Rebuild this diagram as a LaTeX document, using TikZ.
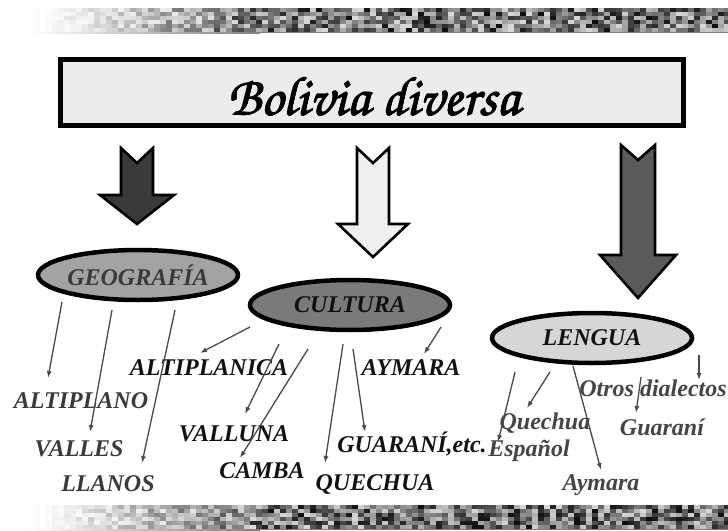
\documentclass[tikz,border=0pt]{standalone}
\usepackage{fontspec}
\setmainfont{Liberation Serif}
\usetikzlibrary{arrows.meta,shapes.geometric}
\definecolor{boxfill}{HTML}{ECECEC}
\definecolor{arrA}{HTML}{3A3A3A}
\definecolor{arrB}{HTML}{EFEFEF}
\definecolor{arrC}{HTML}{5A5A5A}
\definecolor{ellA}{HTML}{A3A3A3}
\definecolor{ellB}{HTML}{7A7A7A}
\definecolor{ellC}{HTML}{D6D6D6}
\definecolor{txtA}{HTML}{3A3A3A}
\definecolor{txtB}{HTML}{111111}
\definecolor{txtC}{HTML}{454545}
\definecolor{linecol}{HTML}{4A4A4A}
\tikzset{
  bigell/.style={ellipse, draw=black, line width=4.5pt, minimum width=200pt, minimum height=50pt, inner sep=0pt,
    font=\fontsize{24}{27}\selectfont\bfseries\itshape},
  lbl/.style={inner sep=0pt, font=\fontsize{24}{27}\selectfont\bfseries\itshape},
  conn/.style={draw=linecol, line width=1.3pt, -{Latex[length=7pt,width=5pt]}},
  blockarr/.style={draw=black, line width=2.6pt, line join=miter},
  titlefont/.style={inner sep=0pt, font=\fontencoding{OT1}\fontfamily{pzc}\fontseries{mb}\fontshape{it}\fontsize{55}{60}\selectfont},
}
\newcommand\blockarrow[8]{% cx top shafthalf headhalf headbase tip notch fill
  \filldraw[blockarr, fill=#8] (#1-#3,#2) -- (#1,#2+#7) -- (#1+#3,#2) -- (#1+#3,#5) -- (#1+#4,#5)
    -- (#1,#6) -- (#1-#4,#5) -- (#1-#3,#5) -- cycle;}
\newcommand\texstrip[2]{% top bottom
  \shade[left color=white, right color=black!50] (30,#1) rectangle (260,#2);
  \fill[black!50] (260,#1) rectangle (728,#2);
  \foreach \x in {40,46,...,728}{
    \foreach \y in {#1,4+#1,8+#1,12+#1,16+#1,20+#1}{
      \pgfmathsetmacro\f{min(1,max(0,(\x-40)/230))}
      \pgfmathsetmacro\v{(15+80*rnd)*\f}
      \fill[black!\v] (\x,\y) rectangle ++(6.4,4.3);
    }}}
\begin{document}
\begin{tikzpicture}[x=1pt,y=-1pt]
\useasboundingbox (0,0) rectangle (728,530);
\fill[white] (0,0) rectangle (728,530);
\pgfmathsetseed{11}
\texstrip{8}{33}
\texstrip{505}{530}

% title
\node[draw=black, line width=5pt, fill=boxfill, minimum width=623pt, minimum height=66pt, inner sep=0pt] (title) at (372,92.5) {};
\foreach \dx/\dy in {-0.5/0,0.5/0,0/-0.5,0/0.5}
  \node[titlefont] at (374+\dx,96+\dy) {Bolivia diversa};
\node[titlefont] (titletext) at (374,96) {Bolivia diversa};

% block arrows
\blockarrow{137}{148}{16}{37}{195}{224}{15}{arrA}
\blockarrow{373}{148}{16}{35}{224}{257}{15}{arrB}
\blockarrow{638}{145}{17}{38}{255}{298}{15}{arrC}

% ellipses
\node[bigell, fill=ellA, text=txtA] (geo) at (138,275) {GEOGRAFÍA};
\node[bigell, fill=ellB, text=txtB] (cul) at (350,305) {CULTURA};
\node[bigell, fill=ellC, text=txtB] (len) at (592,338) {LENGUA};

% labels
\node[lbl, text=txtA] (altiplano) at (81,401) {ALTIPLANO};
\node[lbl, text=txtA] (valles) at (79,449) {VALLES};
\node[lbl, text=txtA] (llanos) at (108,484) {LLANOS};
\node[lbl, text=txtB] (altiplanica) at (209,368) {ALTIPLANICA};
\node[lbl, text=txtB] (valluna) at (234,434) {VALLUNA};
\node[lbl, text=txtB] (camba) at (262,471) {CAMBA};
\node[lbl, text=txtB] (quechuaC) at (375,484) {QUECHUA};
\node[lbl, text=txtB] (guaraniC) at (412,444) {GUARANÍ,etc.};
\node[lbl, text=txtB] (aymaraC) at (411,368) {AYMARA};
\node[lbl, text=txtC] (quechuaL) at (545,423) {Quechua};
\node[lbl, text=txtC] (espanol) at (529,451) {Español};
\node[lbl, text=txtC] (aymaraL) at (601,485) {Aymara};
\node[lbl, text=txtC] (otros) at (653,388) {Otros dialectos};
\node[lbl, text=txtC] (guaraniL) at (662,427) {Guaraní};

% connector end points
\coordinate (g1s) at (62,302);  \coordinate (g1e) at (48,378);
\coordinate (g2s) at (112,310); \coordinate (g2e) at (90,432);
\coordinate (g3s) at (175,310); \coordinate (g3e) at (142,463);
\coordinate (c1s) at (250,327); \coordinate (c1e) at (200,353);
\coordinate (c2s) at (279,344); \coordinate (c2e) at (245,414);
\coordinate (c3s) at (308,349); \coordinate (c3e) at (240,458);
\coordinate (c4s) at (343,344); \coordinate (c4e) at (325,463);
\coordinate (c5s) at (353,349); \coordinate (c5e) at (365,432);
\coordinate (c6s) at (441,327); \coordinate (c6e) at (424,354);
\coordinate (l1s) at (515,372); \coordinate (l1e) at (498,442);
\coordinate (l2s) at (550,372); \coordinate (l2e) at (527,408);
\coordinate (l3s) at (573,366); \coordinate (l3e) at (601,470);
\coordinate (l4s) at (641,377); \coordinate (l4e) at (636,413);
\coordinate (l5s) at (699,355); \coordinate (l5e) at (699,380);

\foreach \a in {g1,g2,g3,c1,c2,c3,c4,c5,c6,l1,l2,l3,l4,l5}
  \draw[conn] (\a s) -- (\a e);
\end{tikzpicture}
\end{document}
